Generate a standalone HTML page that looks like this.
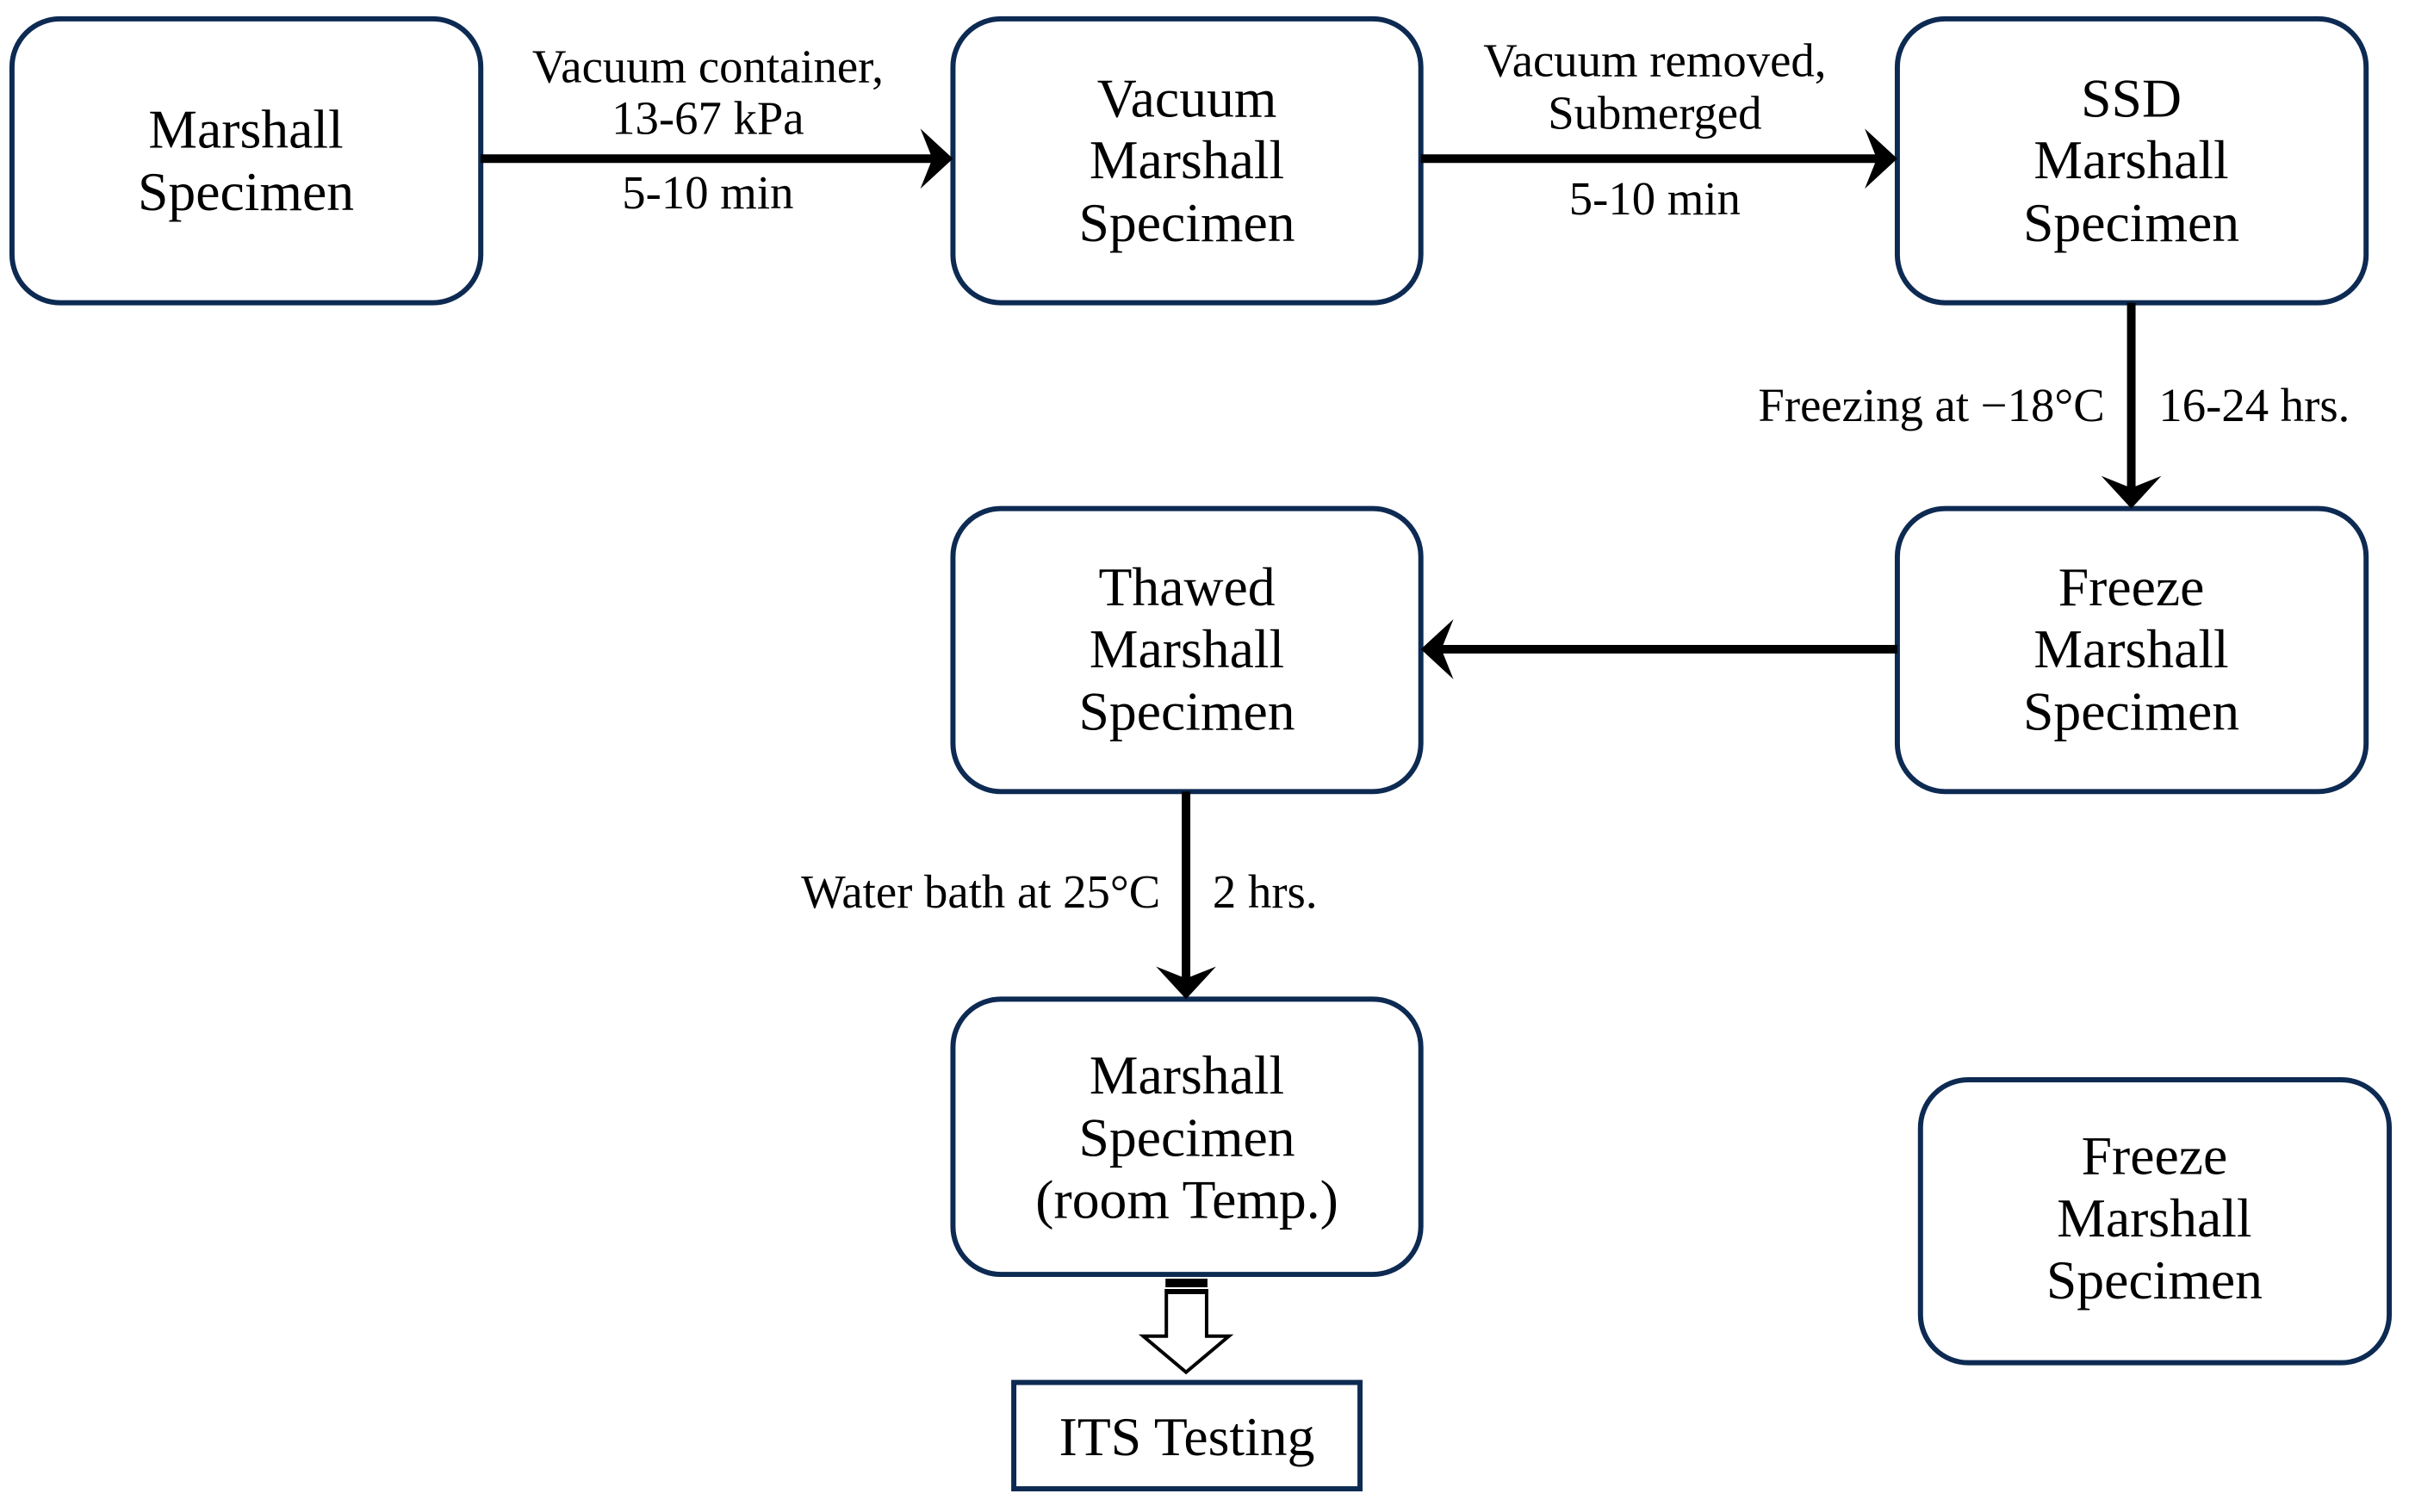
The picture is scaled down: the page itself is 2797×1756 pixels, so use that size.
<!DOCTYPE html>
<html><head><meta charset="utf-8"><style>
html,body{margin:0;padding:0;background:#fff}
svg{display:block}
text{font-family:"Liberation Serif",serif;fill:#000}
.b{font-size:64px}
.l{font-size:55px}
</style></head><body>
<svg width="2797" height="1756" viewBox="0 0 2797 1756" xmlns="http://www.w3.org/2000/svg">
<g transform="scale(0.995,0.996)">
<g fill="#fff" stroke="#0d2a52" stroke-width="6">
<rect x="14" y="22" width="547" height="331" rx="56"/>
<rect x="1112" y="22" width="546" height="331" rx="56"/>
<rect x="2214" y="22" width="547" height="331" rx="56"/>
<rect x="1112" y="593" width="546" height="330" rx="56"/>
<rect x="2214" y="593" width="547" height="330" rx="56"/>
<rect x="1112" y="1165" width="546" height="321" rx="56"/>
<rect x="2241" y="1259" width="547" height="330" rx="56"/>
<rect x="1183" y="1612" width="404" height="124"/>
</g>
<g stroke="#000" stroke-width="10" fill="none">
<line x1="561" y1="185" x2="1090" y2="185"/>
<line x1="1658" y1="185" x2="2192" y2="185"/>
<line x1="2487" y1="353" x2="2487" y2="572"/>
<line x1="2214" y1="757" x2="1680" y2="757"/>
<line x1="1384" y1="923" x2="1384" y2="1143"/>
</g>
<g fill="#000">
<path d="M1112 185 L1074 150 L1088 185 L1074 220 Z"/>
<path d="M2214 185 L2176 150 L2190 185 L2176 220 Z"/>
<path d="M2487 593 L2452 555 L2487 569 L2522 555 Z"/>
<path d="M1658 757 L1696 722 L1682 757 L1696 792 Z"/>
<path d="M1384 1165 L1349 1127 L1384 1141 L1419 1127 Z"/>
</g>
<rect x="1360" y="1491" width="49" height="10" fill="#000"/>
<path d="M1361 1505 H1408 V1558 H1434 L1384 1600 L1334 1558 H1361 Z" fill="#fff" stroke="#000" stroke-width="4"/>
<line x1="1361" y1="1507" x2="1408" y2="1507" stroke="#000" stroke-width="4"/>
<g class="b" text-anchor="middle">
<text x="287" y="172">Marshall</text><text x="287" y="245">Specimen</text>
<text x="1385" y="136">Vacuum</text><text x="1385" y="208">Marshall</text><text x="1385" y="281">Specimen</text>
<text x="2487" y="136">SSD</text><text x="2487" y="208">Marshall</text><text x="2487" y="281">Specimen</text>
<text x="1385" y="706">Thawed</text><text x="1385" y="778">Marshall</text><text x="1385" y="851">Specimen</text>
<text x="2487" y="706">Freeze</text><text x="2487" y="778">Marshall</text><text x="2487" y="851">Specimen</text>
<text x="1385" y="1275">Marshall</text><text x="1385" y="1348">Specimen</text><text x="1385" y="1420">(room Temp.)</text>
<text x="2514" y="1369">Freeze</text><text x="2514" y="1442">Marshall</text><text x="2514" y="1514">Specimen</text>
<text x="1385" y="1697">ITS Testing</text>
</g>
<g class="l" text-anchor="middle">
<text x="826" y="96">Vacuum container,</text><text x="826" y="156">13-67 kPa</text><text x="826" y="243">5-10 min</text>
<text x="1931" y="89">Vacuum removed,</text><text x="1931" y="150">Submerged</text><text x="1931" y="250">5-10 min</text>
</g>
<g class="l">
<text x="2456" y="491" text-anchor="end">Freezing at −18°C</text>
<text x="2519" y="491">16-24 hrs.</text>
<text x="1354" y="1058" text-anchor="end">Water bath at 25°C</text>
<text x="1415" y="1058">2 hrs.</text>
</g>
</g>
</svg>
</body></html>
